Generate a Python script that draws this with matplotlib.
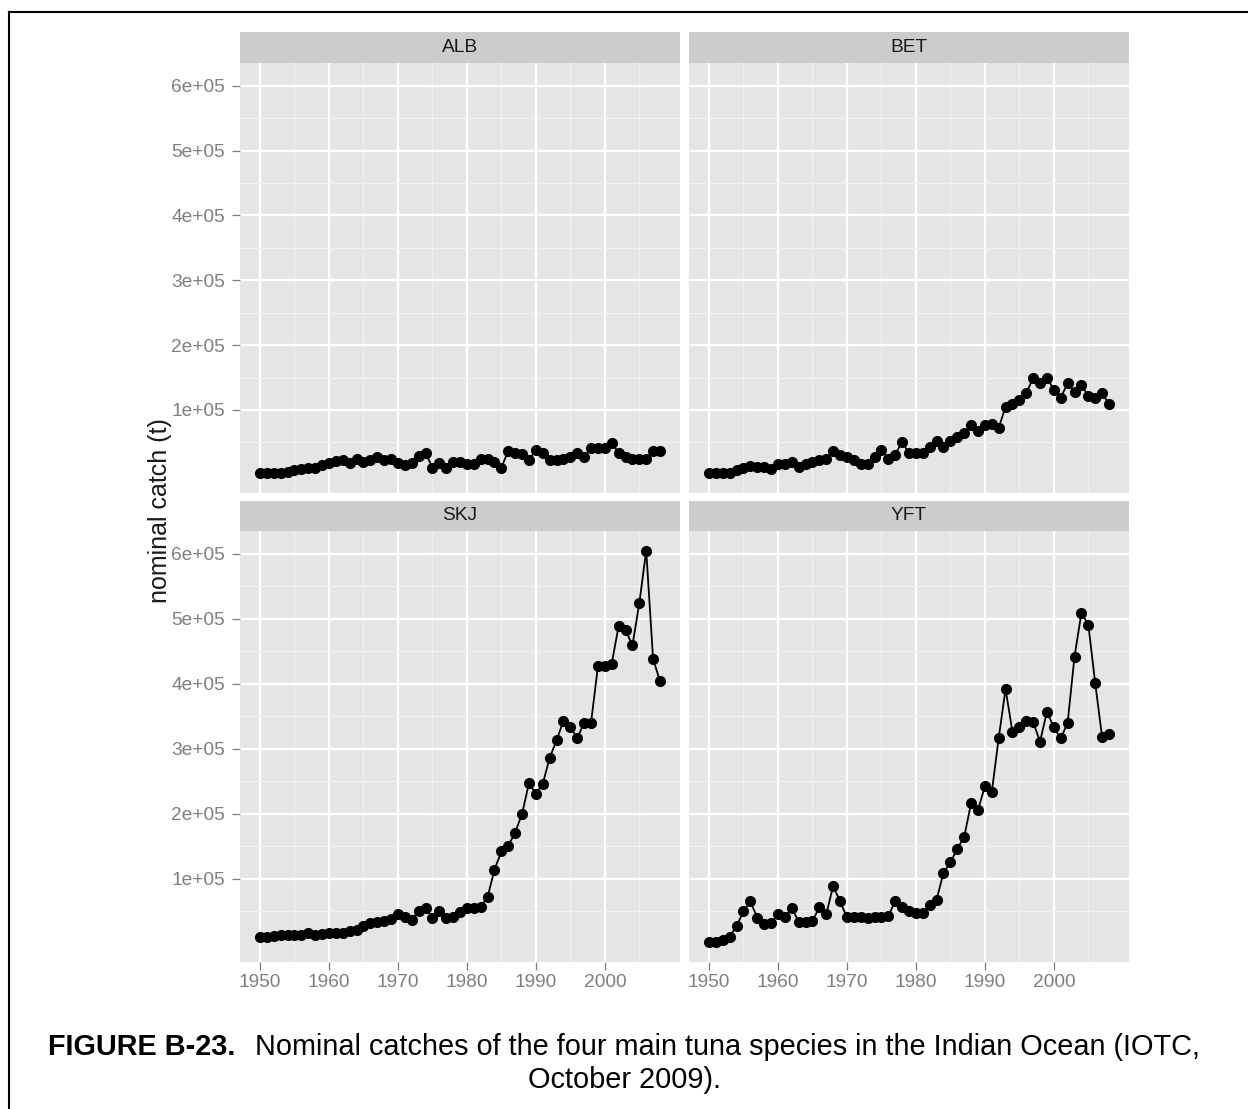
import matplotlib
matplotlib.use("Agg")
import matplotlib.pyplot as plt
from matplotlib.lines import Line2D

plt.rcParams['font.family'] = ['Liberation Sans', 'DejaVu Sans']

# Nominal catches (t) by year, Indian Ocean
years = list(range(1950, 2009))
species = ["ALB", "BET", "SKJ", "YFT"]

alb = [2000, 2000, 2000, 3000, 5000, 7000, 9000, 10000, 11000, 15000,
       18000, 21000, 23000, 18000, 24000, 19000, 23000, 27000, 23000, 24000,
       18000, 15000, 18000, 29000, 34000, 11000, 18000, 11000, 20000, 20000,
       17000, 17000, 25000, 24000, 20000, 11000, 37000, 34000, 32000, 23000,
       38000, 34000, 23000, 23000, 25000, 27000, 34000, 27000, 41000, 41000,
       41000, 49000, 34000, 27000, 24000, 24000, 24000, 37000, 37000]
bet = [2000, 2000, 2000, 3000, 7000, 10000, 13000, 12000, 12000, 9000,
       17000, 16000, 20000, 12000, 17000, 20000, 22000, 25000, 36000, 31000,
       27000, 22000, 17000, 16000, 27000, 38000, 25000, 31000, 51000, 33000,
       33000, 33000, 43000, 52000, 43000, 52000, 59000, 64000, 76000, 67000,
       76000, 79000, 72000, 105000, 109000, 116000, 126000, 149000, 141000, 150000,
       131000, 119000, 141000, 128000, 139000, 121000, 118000, 126000, 109000]
skj = [11000, 11000, 12000, 13000, 13000, 14000, 14000, 16000, 14000, 15000,
       16000, 16000, 17000, 20000, 21000, 27000, 32000, 34000, 35000, 38000,
       45000, 41000, 37000, 51000, 55000, 40000, 51000, 40000, 41000, 49000,
       55000, 55000, 57000, 72000, 114000, 142000, 151000, 171000, 200000, 247000,
       231000, 246000, 286000, 313000, 343000, 334000, 316000, 340000, 340000, 427000,
       428000, 431000, 489000, 483000, 459000, 524000, 605000, 438000, 404000]
yft = [3000, 3000, 6000, 11000, 27000, 50000, 65000, 40000, 30000, 32000,
       45000, 41000, 55000, 34000, 34000, 35000, 56000, 45000, 89000, 65000,
       41000, 41000, 41000, 40000, 41000, 41000, 42000, 66000, 57000, 51000,
       48000, 48000, 60000, 68000, 109000, 125000, 146000, 164000, 216000, 206000,
       242000, 233000, 316000, 392000, 326000, 333000, 343000, 341000, 311000, 357000,
       333000, 316000, 340000, 442000, 509000, 491000, 401000, 318000, 323000]
series = [alb, bet, skj, yft]

x_major = [1950, 1960, 1970, 1980, 1990, 2000]
x_minor = [1955, 1965, 1975, 1985, 1995, 2005]
y_major = [100000, 200000, 300000, 400000, 500000, 600000]
y_minor = [50000, 150000, 250000, 350000, 450000, 550000]
y_labels = ["1e+05", "2e+05", "3e+05", "4e+05", "5e+05", "6e+05"]

title = "FIGURE B-23."
caption1 = "Nominal catches of the four main tuna species in the Indian Ocean (IOTC,"
caption2 = "October 2009)."
ylabel = "nominal catch (t)"

W, H = 1248, 1109
fig = plt.figure(figsize=(W / 100, H / 100), dpi=100)


def box(x0, y0, x1, y1):
    return [x0 / W, 1 - y1 / H, (x1 - x0) / W, (y1 - y0) / H]


cols = [(240, 680), (689, 1129)]
rows = [(32, 63, 493), (501, 531, 962)]

allv = alb + bet + skj + yft
lo, hi = min(allv), max(allv)
ypad = 0.05 * (hi - lo)
ylim = (lo - ypad, hi + ypad)
xpad = 0.05 * (years[-1] - years[0])
xlim = (years[0] - xpad, years[-1] + xpad)

grey50 = "#7F7F7F"

for i, (name, vals) in enumerate(zip(species, series)):
    r, c = divmod(i, 2)
    x0, x1 = cols[c]
    st, pt, pb = rows[r]

    strip = fig.add_axes(box(x0, st, x1, pt))
    strip.set_facecolor("#CCCCCC")
    strip.set_xticks([])
    strip.set_yticks([])
    for s in strip.spines.values():
        s.set_visible(False)
    strip.text(0.5, 0.5, name, ha="center", va="center", fontsize=13.8,
               color="#1A1A1A", transform=strip.transAxes)

    ax = fig.add_axes(box(x0, pt, x1, pb))
    ax.set_facecolor("#E5E5E5")
    for s in ax.spines.values():
        s.set_visible(False)
    ax.set_xlim(*xlim)
    ax.set_ylim(*ylim)
    ax.set_xticks(x_major)
    ax.set_xticks(x_minor, minor=True)
    ax.set_yticks(y_major)
    ax.set_yticks(y_minor, minor=True)
    ax.set_xticklabels([str(v) for v in x_major])
    ax.set_yticklabels(y_labels)
    ax.grid(which="minor", color="#F2F2F2", lw=0.9)
    ax.grid(which="major", color="white", lw=1.6)
    ax.set_axisbelow(True)
    ax.tick_params(which="minor", length=0)
    ax.tick_params(axis="x", which="major", length=5.8, width=0.9, color=grey50,
                   labelcolor=grey50, labelsize=13.8, pad=3,
                   labelbottom=(r == 1), bottom=(r == 1))
    ax.tick_params(axis="y", which="major", length=5.8, width=0.9, color=grey50,
                   labelcolor=grey50, labelsize=13.8, pad=5,
                   labelleft=(c == 0), left=(c == 0))

    ax.plot(years, vals, color="black", lw=1.3, marker="o", ms=7,
            zorder=3, clip_on=False)

# axis title shared by the panels
fig.text(160 / W, 1 - 511 / H, ylabel, rotation=90, ha="center", va="center",
         fontsize=18, color="#1A1A1A")

# page frame
fig.add_artist(Line2D([9 / W, 9 / W], [0, 1 - 12 / H], color="black", lw=1.5))
fig.add_artist(Line2D([9 / W, 1], [1 - 12 / H, 1 - 12 / H], color="black", lw=1.5))

# figure caption
fig.canvas.draw()
rend = fig.canvas.get_renderer()
cap_size = 20.8
base1 = 1 - 1055 / H
t1 = fig.text(0, base1, title, fontsize=cap_size, fontweight="bold",
              va="baseline", ha="left", color="black")
t2 = fig.text(0, base1, caption1, fontsize=cap_size, va="baseline", ha="left",
              color="black")
w1 = t1.get_window_extent(rend).width
w2 = t2.get_window_extent(rend).width
gap = 19
start = 624 - (w1 + gap + w2) / 2
t1.set_x(start / W)
t2.set_x((start + w1 + gap) / W)
fig.text(624 / W, 1 - 1088 / H, caption2, fontsize=cap_size, va="baseline",
         ha="center", color="black")

fig.savefig("out.png", dpi=100, facecolor="white")
